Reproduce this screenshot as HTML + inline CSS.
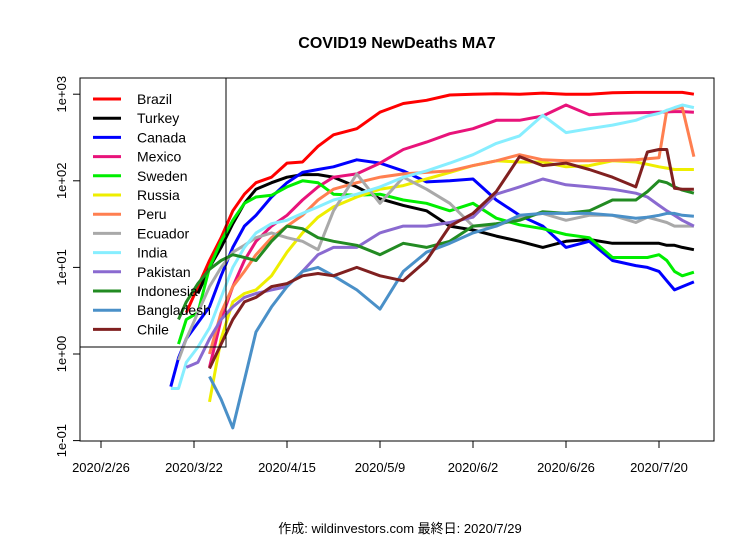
<!DOCTYPE html>
<html><head><meta charset="utf-8">
<style>
body{margin:0;background:#fff;}
svg{display:block;font-family:"Liberation Sans","Noto Sans CJK JP",sans-serif;}
</style></head>
<body>
<svg id="chart" width="756" height="540" viewBox="0 0 756 540" xmlns="http://www.w3.org/2000/svg">
<rect width="756" height="540" fill="#fff"/>
<text x="397" y="48" text-anchor="middle" font-size="16" font-weight="bold">COVID19 NewDeaths MA7</text>
<rect x="80" y="78" width="634" height="363" fill="none" stroke="#000" stroke-width="1"/>
<g id="axes"></g>
<g id="series"></g>
<g id="legend"></g>
<text x="400" y="533" text-anchor="middle" font-size="13">作成: wildinvestors.com 最終日: 2020/7/29</text>
</svg>
<script>
const days = [18,20,22,25,28,31,34,37,40,44,48,52,56,60,66,72,78,84,90,96,102,108,114,120,126,132,138,141,144,146,148,150,153];
const xTickDays = [0,24,48,72,96,120,144];
const xTickLabels = ["2020/2/26","2020/3/22","2020/4/15","2020/5/9","2020/6/2","2020/6/26","2020/7/20"];
const yTickValues = [0.1,1,10,100,1000];
const yTickLabels = ["1e-01","1e+00","1e+01","1e+02","1e+03"];
const countries = ["Brazil","Turkey","Canada","Mexico","Sweden","Russia","Peru","Ecuador","India","Pakistan","Indonesia","Bangladesh","Chile"];
const colors = ["#ff0000","#000000","#0000ff","#e8137a","#00ee00","#eeee00","#ff7f50","#a9a9a9","#87eeff","#8a6ad0","#228b22","#4a90c8","#802020"];
const N=null;
const brazil     = [N,N,3,6,12,22,45,70,95,110,160,165,250,340,400,620,780,850,980,1000,1010,1000,1030,1000,1000,1040,1050,1050,1050,1050,1050,1050,1000];
const turkey     = [N,N,N,5,10,17,32,55,80,95,110,118,118,110,85,62,52,45,30,27,23,20,17,20,21,19,19,19,19,18,18,17,16];
const canada     = [0.42,0.9,1.5,2.3,3.5,8,17,30,40,65,95,125,135,145,175,160,130,97,100,105,60,40,30,17,20,12,10.5,10,9,7,5.5,6,6.8];
const mexico     = [N,N,N,N,0.7,2.5,6,12,20,30,40,60,85,110,120,160,230,280,350,400,500,500,560,750,580,600,610,615,620,625,630,630,620];
const sweden     = [N,1.3,2.5,3,10,20,35,55,65,68,85,100,95,70,68,70,60,55,45,55,37,31,28,24,22,13,13,13,14,12,9,8,8.8];
const russia     = [N,N,N,N,0.28,1.5,4,5,5.5,8,15,25,38,50,65,80,88,105,125,150,170,165,165,145,150,170,165,155,145,140,135,135,135];
const peru       = [N,N,N,N,1,3,6,9,14,22,30,40,60,80,95,110,120,125,130,150,170,200,175,170,170,172,175,180,185,650,680,700,190];
const ecuador    = [N,0.85,1.5,3,6,10,15,18,22,25,22,20,16,45,120,55,110,80,55,30,30,38,42,35,40,40,33,38,35,33,30,30,30];
const india      = [0.4,0.4,0.8,1.2,2,4.5,10,17,25,32,35,42,50,60,70,85,110,130,160,200,270,330,570,360,400,440,500,560,600,650,700,750,700];
const pakistan   = [N,N,0.7,0.8,1.5,2.5,3.5,4.5,5,5.5,6,9,14,17,17,25,30,30,33,38,70,85,105,90,85,80,72,65,52,45,40,35,30];
const indonesia  = [N,2.5,4,6.5,9.5,12,14,13,12,20,30,28,22,20,18,14,19,17,20,30,32,35,44,42,45,60,60,75,100,95,85,78,72];
const bangladesh = [N,N,N,N,0.55,0.3,0.14,0.5,1.8,3.5,6,9,10,8,5.5,3.3,9,15,19,25,30,40,42,42,42,40,37,38,40,42,42,40,39];
const chile      = [N,N,N,N,0.68,1.3,2.5,4,4.5,6,6.5,8,8.5,8,10,8,7,12,30,42,75,190,150,160,135,110,85,215,230,230,82,80,80];
const allSeries = [brazil,turkey,canada,mexico,sweden,russia,peru,ecuador,india,pakistan,indonesia,bangladesh,chile];

const NS="http://www.w3.org/2000/svg";
function xs(d){return 101 + d*3.875;}
function ys(v){return 354 - Math.log10(v)*86.6;}
const axes=document.getElementById('axes');
function mk(tag,attrs,parent){const e=document.createElementNS(NS,tag);for(const k in attrs)e.setAttribute(k,attrs[k]);parent.appendChild(e);return e;}

xTickDays.forEach((d,i)=>{
  const x=xs(d);
  const t=mk('line',{x1:x,y1:441,x2:x,y2:448,stroke:'#000'},axes);
  
  
  const l=mk('text',{x:x,y:472,'text-anchor':'middle','font-size':'13'},axes);
  l.textContent=xTickLabels[i];
  
  
});
yTickValues.forEach((v,i)=>{
  const y=ys(v);
  const t=mk('line',{x1:73,y1:y,x2:80,y2:y,stroke:'#000'},axes);
  
  
  const l=mk('text',{x:0,y:0,'text-anchor':'middle','font-size':'13',transform:`translate(66,${y}) rotate(-90)`},axes);
  l.textContent=yTickLabels[i];
  
  
});

const sg=document.getElementById('series');
allSeries.forEach((vals,si)=>{
  let d='';let pen=false;
  vals.forEach((v,i)=>{
    if(v==null){pen=false;return;}
    d+=(pen?'L':'M')+xs(days[i]).toFixed(1)+' '+ys(v).toFixed(1)+' ';pen=true;
  });
  const p=mk('path',{d:d,fill:'none',stroke:colors[si],'stroke-width':'3','stroke-linejoin':'round'},sg);
  
  
});

const lg=document.getElementById('legend');
const box=mk('rect',{x:80,y:78,width:146,height:269,fill:'none',stroke:'#000','stroke-width':'1'},lg);


countries.forEach((c,i)=>{
  const y=99+i*19.2;
  const ln=mk('line',{x1:93,y1:y,x2:121,y2:y,stroke:colors[i],'stroke-width':'3'},lg);
  
  
  const t=mk('text',{x:137,y:y+5,'font-size':'14'},lg);
  t.textContent=c;
  
  
});
</script>
</body></html>
